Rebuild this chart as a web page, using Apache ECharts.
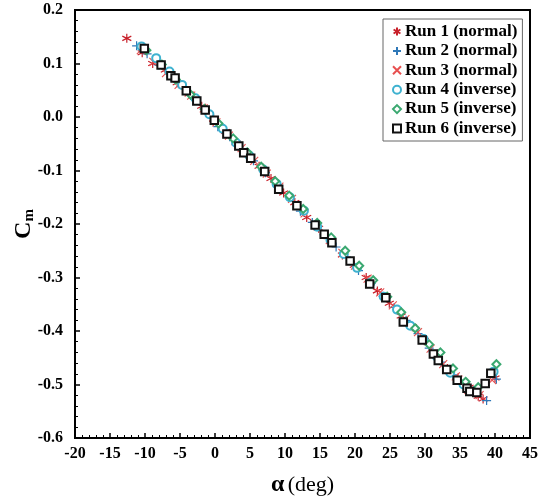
<!DOCTYPE html>
<html>
<head>
<meta charset="utf-8">
<script src="https://cdn.jsdelivr.net/npm/echarts@6/dist/echarts.min.js"></script>
<style>html,body{margin:0;padding:0;background:#fff}#c{width:542px;height:500px}</style>
</head>
<body>
<div id="c"></div>
<script>
var seriesNames = ['Run 1 (normal)','Run 2 (normal)','Run 3 (normal)','Run 4 (inverse)','Run 5 (inverse)','Run 6 (inverse)'];
var xTicks = {min:-20, max:45, step:5};
var yTicks = {min:-0.6, max:0.2, step:0.1};

var run1 = [[-12.6,0.147],[-10.4,0.120],[-8.9,0.100],[-7.1,0.088],[-5.4,0.064],[-3.7,0.043],[-1.9,0.020],[-0.2,-0.004],[1.5,-0.027],[3.0,-0.048],[4.6,-0.070],[6.3,-0.092],[8.0,-0.115],[9.8,-0.142],[11.4,-0.160],[13.1,-0.188],[14.8,-0.208],[16.5,-0.232],[18.2,-0.258],[19.9,-0.277],[21.6,-0.300],[23.2,-0.325],[24.9,-0.348],[26.6,-0.372],[28.2,-0.392],[29.9,-0.418],[31.6,-0.445],[33.2,-0.470],[34.7,-0.488],[36.3,-0.505],[37.6,-0.522],[38.3,-0.527],[40.0,-0.488]];
var run2 = [[-11.2,0.133],[-9.7,0.118],[-8.0,0.097],[-6.3,0.075],[-4.6,0.055],[-2.9,0.033],[-1.2,0.010],[0.4,-0.018],[2.1,-0.037],[3.8,-0.061],[5.5,-0.082],[7.2,-0.104],[8.9,-0.130],[10.6,-0.150],[12.2,-0.176],[13.9,-0.197],[15.6,-0.220],[17.3,-0.243],[18.8,-0.262],[20.5,-0.287],[22.3,-0.311],[24.0,-0.335],[25.6,-0.356],[27.3,-0.380],[29.0,-0.405],[30.6,-0.432],[32.3,-0.458],[34.0,-0.482],[35.6,-0.502],[37.0,-0.515],[38.8,-0.530],[40.2,-0.490]];
var run3 = [[-10.6,0.125],[-8.8,0.103],[-7.0,0.082],[-5.2,0.060],[-3.4,0.040],[-1.6,0.016],[0.2,-0.010],[2.0,-0.035],[3.8,-0.058],[5.6,-0.082],[7.4,-0.106],[9.2,-0.130],[11.0,-0.153],[12.8,-0.180],[14.6,-0.204],[16.4,-0.230],[18.2,-0.254],[20.0,-0.278],[21.8,-0.302],[23.6,-0.328],[25.4,-0.352],[27.2,-0.378],[29.0,-0.402],[30.8,-0.433],[32.6,-0.462],[34.4,-0.485],[36.2,-0.510],[37.8,-0.520],[39.6,-0.492]];
var run4 = [[-10.5,0.132],[-8.4,0.110],[-6.5,0.085],[-4.7,0.060],[-2.8,0.035],[-0.8,0.005],[1.1,-0.022],[3.0,-0.048],[4.9,-0.072],[6.9,-0.098],[8.8,-0.125],[10.7,-0.150],[12.7,-0.175],[14.6,-0.205],[16.5,-0.230],[18.4,-0.256],[20.3,-0.282],[22.2,-0.310],[24.1,-0.336],[26.0,-0.360],[27.9,-0.390],[29.8,-0.415],[31.7,-0.448],[33.6,-0.478],[35.5,-0.500],[37.2,-0.512],[39.8,-0.476]];
var run5 = [[-9.8,0.125],[-7.6,0.098],[-5.6,0.070],[-3.5,0.042],[-1.5,0.015],[0.5,-0.012],[2.6,-0.040],[4.6,-0.066],[6.6,-0.093],[8.6,-0.120],[10.6,-0.147],[12.6,-0.172],[14.6,-0.198],[16.6,-0.225],[18.6,-0.250],[20.6,-0.278],[22.6,-0.305],[24.6,-0.336],[26.6,-0.365],[28.6,-0.395],[30.6,-0.425],[32.2,-0.440],[34.0,-0.470],[35.8,-0.495],[37.6,-0.505],[40.2,-0.462]];
var run6 = [[-10.1,0.128],[-7.7,0.097],[-6.3,0.077],[-5.7,0.073],[-4.1,0.049],[-2.6,0.030],[-1.4,0.013],[-0.1,-0.006],[1.7,-0.032],[3.4,-0.054],[4.1,-0.067],[5.1,-0.077],[7.1,-0.102],[9.1,-0.135],[11.7,-0.166],[14.3,-0.202],[15.6,-0.219],[16.7,-0.235],[19.3,-0.269],[22.1,-0.312],[24.4,-0.338],[26.9,-0.383],[29.6,-0.417],[31.2,-0.443],[31.9,-0.455],[33.1,-0.472],[34.6,-0.492],[36.0,-0.507],[36.4,-0.513],[37.4,-0.515],[38.6,-0.498],[39.4,-0.479]];

var FONT = '"Liberation Serif","Times New Roman",serif';
var asterisk = 'path://M5,0L5,10M0.7,2.5L9.3,7.5M9.3,2.5L0.7,7.5';
var plus = 'path://M0,5L10,5M5,0L5,10';
var cross = 'path://M0,0L10,10M10,0L0,10';

function mkPath(name, data, symbol, size, color, bw) {
  return {
    name: name, type: 'scatter', data: data, symbol: symbol, symbolSize: size,
    itemStyle: {color: 'rgba(255,255,255,0)', borderColor: color, borderWidth: bw, opacity: 1},
    emphasis: {disabled: true}
  };
}
function mkEmpty(name, data, symbol, size, color, bw) {
  return {
    name: name, type: 'scatter', data: data, symbol: symbol, symbolSize: size,
    itemStyle: {color: color, borderWidth: bw, opacity: 1},
    emphasis: {disabled: true}
  };
}

var chart = echarts.init(document.getElementById('c'), null, {renderer: 'canvas'});
chart.setOption({
  animation: false,
  backgroundColor: '#fff',
  grid: {left: 75, right: 12, top: 10, bottom: 62, show: true, borderColor: '#000', borderWidth: 2, backgroundColor: 'transparent', outerBoundsMode: 'none', containLabel: false},
  legend: {
    orient: 'vertical', left: 383, top: 19,
    padding: [4, 5, 4, 9], itemGap: 2.4, itemWidth: 8, itemHeight: 8,
    backgroundColor: '#fff', borderColor: '#666', borderWidth: 1,
    textStyle: {fontFamily: FONT, fontWeight: 'bold', fontSize: 17, color: '#000', padding: [0,0,0,-1]},
    data: seriesNames
  },
  xAxis: {
    type: 'value', min: xTicks.min, max: xTicks.max, interval: xTicks.step,
    axisLine: {show: true, onZero: false, lineStyle: {color: '#000', width: 2}},
    axisTick: {show: true, inside: true, length: 5, lineStyle: {color: '#000', width: 1.5}},
    minorTick: {show: true, splitNumber: 5, length: 3, lineStyle: {color: '#000', width: 1}},
    splitLine: {show: false},
    axisLabel: {fontFamily: FONT, fontWeight: 'bold', fontSize: 16, color: '#000', margin: 8},
    name: '{a|α} {b|(deg)}', nameLocation: 'middle', nameGap: 35,
    nameTextStyle: {rich: {a: {fontFamily: FONT, fontWeight: 'bold', fontSize: 24, color: '#000'}, b: {fontFamily: FONT, fontSize: 22, color: '#000'}}}
  },
  yAxis: {
    type: 'value', min: yTicks.min, max: yTicks.max, interval: yTicks.step,
    axisLine: {show: true, onZero: false, lineStyle: {color: '#000', width: 2}},
    axisTick: {show: true, inside: true, length: 5, lineStyle: {color: '#000', width: 1.5}},
    minorTick: {show: true, splitNumber: 5, length: 3, lineStyle: {color: '#000', width: 1}},
    splitLine: {show: false},
    axisLabel: {fontFamily: FONT, fontWeight: 'bold', fontSize: 16, color: '#000', margin: 12,
      formatter: function (v) { return (Math.abs(v) < 1e-9 ? 0 : v).toFixed(1); }},
    name: '{c|C}{m|m}', nameLocation: 'middle', nameGap: 38, nameRotate: 90, nameMoveOverlap: false,
    nameTextStyle: {rich: {c: {fontFamily: FONT, fontWeight: 'bold', fontSize: 24, color: '#000'}, m: {fontFamily: FONT, fontWeight: 'bold', fontSize: 15, color: '#000', padding: [12, 0, 0, 0]}}}
  },
  series: [
    mkPath(seriesNames[0], run1, asterisk, 9, '#c8202a', 1.2),
    mkPath(seriesNames[1], run2, plus, 9, '#2f78b8', 1.2),
    mkPath(seriesNames[2], run3, cross, 8, '#e85050', 1.1),
    mkEmpty(seriesNames[3], run4, 'emptyCircle', 8, '#3fb2d0', 1.1),
    mkEmpty(seriesNames[4], run5, 'emptyDiamond', 8, '#3aa870', 1.1),
    mkEmpty(seriesNames[5], run6, 'emptyRect', 7.5, '#111', 1.3)
  ]
});
</script>
</body>
</html>
